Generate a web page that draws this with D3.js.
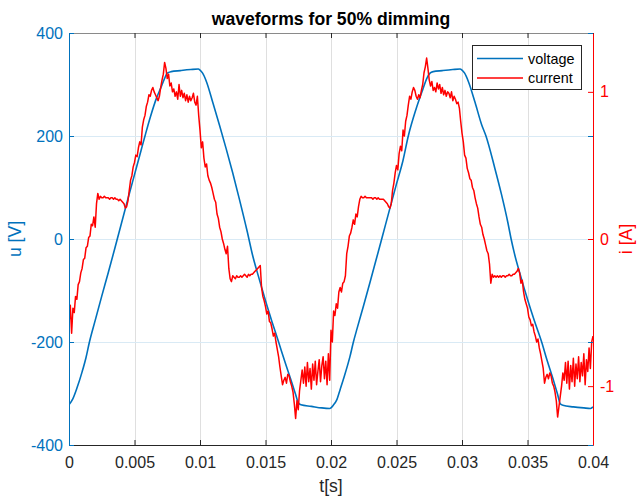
<!DOCTYPE html>
<html>
<head>
<meta charset="utf-8">
<script src="https://cdn.jsdelivr.net/npm/d3@7"></script>
<style>
  body { margin: 0; background: #fff; }
  text { font-family: "Liberation Sans", Arial, Helvetica, sans-serif; }
</style>
</head>
<body>
<div id="chart"></div>
<script>
// ---- data ----
var xTicks = [0, 0.005, 0.01, 0.015, 0.02, 0.025, 0.03, 0.035, 0.04];
var xTickLabels = ["0", "0.005", "0.01", "0.015", "0.02", "0.025", "0.03", "0.035", "0.04"];
var uTicks = [-400, -200, 0, 200, 400];
var iTicks = [-1, 0, 1];

// voltage: time [ms] and value [V]
var voltT = [0,0.3,0.6,1.0,1.3,1.56,2.0,2.5,3.0,3.5,4.0,4.5,5.0,5.5,5.8,6.2,6.7,7.0,7.3,7.5,7.8,8.5,9.3,9.87,
  10.0,10.2,10.5,11.0,11.5,12.0,12.5,13.0,13.6,14.0,14.5,15.0,15.5,16.0,16.5,17.0,17.3,17.5,17.7,18.5,19.3,19.9,
  20.2,20.43,20.7,21.0,21.45,21.71,22.0,22.5,23.0,23.5,23.87,24.5,25.0,25.5,25.9,26.5,27.0,27.3,27.56,27.8,28.5,29.3,29.85,
  30.0,30.2,30.5,31.0,31.5,31.83,32.5,33.0,33.5,33.75,34.0,34.5,35.0,35.5,36.08,36.5,37.0,37.3,37.5,37.7,38.5,39.3,39.8,40.0];
var voltU = [-322,-310,-290,-258,-230,-200,-158,-111,-65,-18,30,78,125,172,200,236,275,293,312,322,325,327,329,330,
  328,322,305,263,220,175,128,78,15,-30,-76,-120,-161,-200,-240,-278,-302,-318,-322,-325,-328,-329,
  -322,-313,-292,-268,-228,-200,-173,-128,-82,-35,0,60,107,153,200,253,290,311,322,325,327,329,330,
  328,322,305,265,222,200,138,88,32,0,-28,-74,-117,-157,-200,-236,-276,-302,-320,-323,-326,-328,-329,-326];

// current [A], one sample every 0.1 ms (one row per ms)
var currStepMs = 0.1;
var currI = [
  -0.58,-0.45,-0.64,-0.47,-0.50,-0.39,-0.41,-0.31,-0.29,-0.23,
  -0.20,-0.14,-0.13,-0.06,-0.05,0.01,0.02,0.10,0.09,0.15,
  0.08,0.24,0.31,0.27,0.29,0.28,0.28,0.29,0.28,0.28,
  0.28,0.27,0.28,0.28,0.27,0.28,0.27,0.27,0.26,0.27,
  0.26,0.25,0.24,0.21,0.22,0.26,0.33,0.40,0.43,0.49,
  0.52,0.57,0.56,0.62,0.66,0.64,0.76,0.81,0.84,0.90,
  0.93,0.98,0.97,1.01,1.03,1.00,0.98,0.96,0.94,0.97,
  1.03,1.08,1.12,1.20,1.16,1.09,1.12,1.04,1.06,1.00,
  1.02,0.97,1.00,0.95,1.05,0.97,1.01,0.96,0.99,0.94,
  0.98,0.93,0.97,0.94,0.96,0.99,0.93,0.91,0.97,0.84,
  0.74,0.62,0.66,0.55,0.49,0.51,0.43,0.40,0.38,0.35,
  0.31,0.27,0.25,0.17,0.14,0.08,0.05,0.00,-0.03,-0.07,
  -0.10,-0.05,-0.20,-0.27,-0.29,-0.25,-0.26,-0.27,-0.25,-0.26,
  -0.26,-0.25,-0.26,-0.25,-0.24,-0.25,-0.26,-0.24,-0.25,-0.24,
  -0.24,-0.23,-0.22,-0.21,-0.20,-0.19,-0.18,-0.33,-0.39,-0.42,
  -0.46,-0.51,-0.49,-0.56,-0.57,-0.61,-0.66,-0.64,-0.70,-0.75,
  -0.80,-0.87,-0.93,-0.99,-0.96,-0.94,-0.98,-0.92,-0.93,-0.97,
  -1.00,-1.04,-1.12,-1.22,-1.10,-1.16,-1.03,-0.96,-0.89,-0.98,
  -0.87,-1.00,-0.84,-0.97,-0.88,-1.02,-0.85,-0.96,-0.83,-0.99,
  -0.90,-0.82,-0.97,-0.86,-0.80,-0.95,-0.83,-0.99,-0.78,-0.96,
  -0.62,-0.70,-0.49,-0.52,-0.44,-0.47,-0.36,-0.33,-0.36,-0.30,
  -0.29,-0.25,-0.10,-0.05,0.02,0.04,0.08,0.13,0.10,0.17,
  0.15,0.22,0.27,0.29,0.28,0.28,0.29,0.28,0.28,0.28,
  0.28,0.28,0.27,0.28,0.28,0.27,0.28,0.27,0.27,0.27,
  0.27,0.26,0.25,0.24,0.22,0.21,0.24,0.33,0.38,0.45,
  0.50,0.47,0.58,0.63,0.60,0.74,0.70,0.80,0.84,0.91,
  0.97,0.95,1.00,1.03,1.01,0.97,0.95,0.98,0.96,1.01,
  1.05,1.13,1.17,1.23,1.16,1.08,1.04,1.07,1.01,1.03,
  1.00,1.06,1.02,1.05,0.99,1.03,0.98,1.01,0.97,1.00,
  0.99,0.96,1.00,0.94,0.97,0.95,0.92,0.93,0.89,0.80,
  0.72,0.66,0.57,0.55,0.48,0.45,0.41,0.40,0.35,0.33,
  0.28,0.24,0.21,0.15,0.10,0.08,0.03,0.00,-0.04,-0.08,
  -0.10,-0.17,-0.30,-0.24,-0.26,-0.25,-0.26,-0.25,-0.26,-0.25,
  -0.26,-0.25,-0.25,-0.26,-0.25,-0.25,-0.24,-0.25,-0.25,-0.24,
  -0.24,-0.23,-0.22,-0.20,-0.23,-0.30,-0.28,-0.36,-0.41,-0.44,
  -0.47,-0.53,-0.55,-0.59,-0.58,-0.63,-0.66,-0.70,-0.68,-0.74,
  -0.78,-0.83,-0.88,-0.98,-0.94,-0.92,-0.95,-0.91,-0.93,-0.98,
  -1.00,-1.04,-1.10,-1.21,-1.14,-1.07,-1.00,-0.91,-0.96,-0.84,
  -0.98,-0.83,-1.02,-0.86,-0.97,-0.81,-1.00,-0.85,-0.95,-0.80,
  -0.97,-0.84,-0.93,-0.78,-0.99,-0.82,-0.90,-0.74,-0.88,-0.70,
  -0.66
];

var blue = "#0072BD", red = "#FF0000", dark = "#262626";

// Set graph margins and dimensions
var margin = {top: 33, right: 48, bottom: 53, left: 69},
    width = 641 - margin.left - margin.right,
    height = 498 - margin.top - margin.bottom;

var x = d3.scaleLinear().domain([0, 0.04]).range([0, width]);
var yU = d3.scaleLinear().domain([-400, 400]).range([height, 0]);
var yI = d3.scaleLinear().domain([-1.4, 1.4]).range([height, 0]);

var svg = d3.select("#chart").append("svg")
    .attr("width", 641)
    .attr("height", 498)
  .append("g")
    .attr("transform", "translate(" + margin.left + "," + margin.top + ")");

// grid
svg.append("g").selectAll("line").data(xTicks).enter().append("line")
    .attr("x1", function(d) { return Math.round(x(d)) + 0.5; })
    .attr("x2", function(d) { return Math.round(x(d)) + 0.5; })
    .attr("y1", 0).attr("y2", height)
    .attr("stroke", "#dfdfdf");
svg.append("g").selectAll("line").data(uTicks).enter().append("line")
    .attr("x1", 0).attr("x2", width)
    .attr("y1", function(d) { return Math.round(yU(d)) + 0.5; })
    .attr("y2", function(d) { return Math.round(yU(d)) + 0.5; })
    .attr("stroke", "#d9eaf5");

svg.append("clipPath").attr("id", "plotclip")
  .append("rect").attr("width", width).attr("height", height);

// voltage line
var voltData = voltT.map(function(t, i) { return {t: t / 1000, v: voltU[i]}; });
svg.append("path")
    .datum(voltData)
    .attr("clip-path", "url(#plotclip)")
    .attr("fill", "none")
    .attr("stroke", blue)
    .attr("stroke-width", 1.6)
    .attr("d", d3.line()
      .curve(d3.curveMonotoneX)
      .x(function(d) { return x(d.t); })
      .y(function(d) { return yU(d.v); }));

// current line
var currData = currI.map(function(v, k) { return {t: k * currStepMs / 1000, v: v}; });
svg.append("path")
    .datum(currData)
    .attr("clip-path", "url(#plotclip)")
    .attr("fill", "none")
    .attr("stroke", red)
    .attr("stroke-width", 1.5)
    .attr("stroke-linejoin", "round")
    .attr("d", d3.line()
      .x(function(d) { return x(d.t); })
      .y(function(d) { return yI(d.v); }));

// axes
function styleAxis(g, color, size) {
  g.attr("font-family", null).attr("font-size", null);
  g.select(".domain").attr("stroke", color);
  g.selectAll(".tick line").attr("stroke", color);
  g.selectAll(".tick text").attr("fill", color).style("font-size", size + "px");
}
var plainNum = function(d) { return String(d); };

// top
svg.append("g")
    .call(d3.axisTop(x).tickValues(xTicks).tickFormat("").tickSize(-5).tickSizeOuter(0))
    .call(styleAxis, dark, 16)
    .call(function(g) { g.select(".domain").attr("stroke", "#8a8a8a"); });

// bottom
svg.append("g")
    .attr("transform", "translate(0," + height + ")")
    .call(d3.axisBottom(x).tickValues(xTicks)
      .tickFormat(function(d, i) { return xTickLabels[i]; })
      .tickSize(-5).tickSizeOuter(0).tickPadding(11.5))
    .call(styleAxis, dark, 16);

// left (voltage)
svg.append("g")
    .call(d3.axisLeft(yU).tickValues(uTicks).tickFormat(plainNum)
      .tickSize(-5).tickSizeOuter(0).tickPadding(6))
    .call(styleAxis, blue, 16);

// mirrored voltage ticks on the right edge
svg.append("g")
    .attr("transform", "translate(" + width + ",0)")
    .call(d3.axisRight(yU).tickValues(uTicks).tickFormat("").tickSize(-5).tickSizeOuter(0))
    .call(styleAxis, blue, 16)
    .call(function(g) { g.select(".domain").remove(); });

// right (current)
svg.append("g")
    .attr("transform", "translate(" + width + ",0)")
    .call(d3.axisRight(yI).tickValues(iTicks).tickFormat(plainNum)
      .tickSize(-5).tickSizeOuter(0).tickPadding(7))
    .call(styleAxis, red, 16);

// axis labels and title
svg.append("text")
    .attr("x", width / 2).attr("y", height + 47)
    .attr("text-anchor", "middle")
    .attr("fill", dark)
    .style("font-size", "17.6px")
    .text("t[s]");

svg.append("text")
    .attr("transform", "translate(" + (-54) + "," + (height / 2) + ") rotate(-90)")
    .attr("text-anchor", "middle")
    .attr("dy", "0.35em")
    .attr("fill", blue)
    .style("font-size", "17.6px")
    .text("u [V]");

svg.append("text")
    .attr("transform", "translate(" + (width + 33) + "," + (height / 2) + ") rotate(-90)")
    .attr("text-anchor", "middle")
    .attr("dy", "0.35em")
    .attr("fill", red)
    .style("font-size", "17.6px")
    .text("i [A]");

svg.append("text")
    .attr("x", width / 2).attr("y", -8)
    .attr("text-anchor", "middle")
    .attr("fill", "#000")
    .style("font-size", "17.6px")
    .style("font-weight", "bold")
    .text("waveforms for 50% dimming");

// legend
var legend = svg.append("g").attr("transform", "translate(" + (472 - margin.left) + "," + (45 - margin.top) + ")");
legend.append("rect")
    .attr("x", 0.5).attr("y", 0.5)
    .attr("width", 109).attr("height", 44)
    .attr("fill", "#fff")
    .attr("stroke", dark);
var legendItems = [{name: "voltage", color: blue}, {name: "current", color: red}];
legendItems.forEach(function(d, i) {
  var ly = 13.5 + i * 19.5;
  legend.append("line")
      .attr("x1", 5).attr("x2", 51)
      .attr("y1", ly).attr("y2", ly)
      .attr("stroke", d.color).attr("stroke-width", 1.6);
  legend.append("text")
      .attr("x", 56).attr("y", ly)
      .attr("dy", "0.35em")
      .attr("fill", "#000")
      .style("font-size", "14.4px")
      .text(d.name);
});
</script>
</body>
</html>
